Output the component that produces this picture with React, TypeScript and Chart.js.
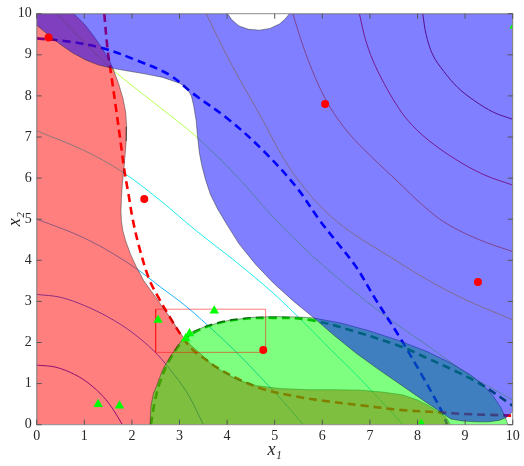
import React, { useEffect, useRef } from 'react';
import { Chart, registerables } from 'chart.js';

Chart.register(...registerables);

type Pt = [number, number];

// ---------- axes ----------
const X_TICKS = [0, 1, 2, 3, 4, 5, 6, 7, 8, 9, 10];
const Y_TICKS = [0, 1, 2, 3, 4, 5, 6, 7, 8, 9, 10];
const X_TITLE = 'x₁';
const Y_TITLE = 'x₂';

// ---------- filled regions (boundaries) ----------
const redRegion: Pt[] = [
  [0, 0], [0, 10], [0.78, 10], [1.0, 9.75], [1.2, 9.45], [1.38, 9.15], [1.52, 8.88], [1.6, 8.67],
  [1.72, 8.3], [1.81, 7.95], [1.87, 7.6], [1.89, 7.25], [1.88, 6.9], [1.86, 6.6], [1.83, 6.2],
  [1.8, 5.87], [1.78, 5.5], [1.77, 5.2], [1.78, 4.95], [1.81, 4.72], [1.87, 4.47], [1.97, 4.15],
  [2.09, 3.85], [2.25, 3.5], [2.44, 3.2], [2.62, 2.9], [2.79, 2.63], [2.95, 2.35], [3.07, 2.14],
  [3.25, 1.92], [3.43, 1.74], [3.65, 1.5], [3.92, 1.28], [4.25, 1.08], [4.62, 0.95], [5.1, 0.88],
  [5.7, 0.85], [6.3, 0.85], [6.8, 0.84], [7.3, 0.79], [7.7, 0.72], [8.0, 0.6], [8.25, 0.45],
  [8.45, 0.3], [8.6, 0.18], [8.69, 0],
];

const blueRegion: Pt[] = [
  [0, 10], [4.01, 10], [4.1, 9.85], [4.25, 9.7], [4.45, 9.62], [4.68, 9.6], [4.9, 9.64], [5.1, 9.75],
  [5.22, 9.87], [5.31, 10], [10, 10], [10, 0.32], [9.87, 0.18], [9.73, 0.11], [9.5, 0.07],
  [9.24, 0.07], [8.95, 0.09], [8.7, 0.14], [8.6, 0.22], [8.2, 0.53], [7.7, 0.93], [7.2, 1.33],
  [6.71, 1.74], [6.25, 2.17], [5.8, 2.62], [5.4, 3.0], [4.97, 3.45], [4.6, 3.9], [4.25, 4.4],
  [3.98, 4.9], [3.8, 5.25], [3.65, 5.6], [3.55, 5.95], [3.47, 6.3], [3.42, 6.6], [3.38, 7.0],
  [3.35, 7.4], [3.3, 7.75], [3.25, 8.0], [3.15, 8.2], [3.0, 8.31], [2.65, 8.45], [2.3, 8.53],
  [1.95, 8.6], [1.6, 8.67], [1.3, 8.75], [1.04, 8.87], [0.75, 9.05], [0.5, 9.25], [0.25, 9.48],
  [0, 9.72],
];

const greenRegion: Pt[] = [
  [2.38, 0], [2.4, 0.45], [2.45, 0.75], [2.52, 0.95], [2.65, 1.35], [2.8, 1.65], [2.95, 1.9],
  [3.08, 2.1], [3.3, 2.28], [3.57, 2.4], [4.0, 2.53], [4.5, 2.61], [5.0, 2.63], [5.5, 2.62],
  [5.8, 2.6], [6.4, 2.47], [7.0, 2.28], [7.6, 2.05], [8.2, 1.78], [8.7, 1.5], [9.1, 1.22],
  [9.4, 0.95], [9.6, 0.68], [9.75, 0.42], [9.84, 0.2], [9.9, 0],
];

// ---------- dashed curves ----------
const redDashed: Pt[] = [
  [1.42, 10], [1.49, 9.12], [1.58, 8.4], [1.67, 7.66], [1.76, 6.9], [1.84, 6.2], [1.93, 5.6],
  [2.02, 4.98], [2.17, 4.25], [2.37, 3.52], [2.58, 3.05], [2.79, 2.63], [3.08, 2.1], [3.3, 1.8],
  [3.57, 1.57], [3.8, 1.38], [4.27, 1.09], [4.75, 0.87], [5.43, 0.69], [6.1, 0.57], [6.83, 0.47],
  [7.63, 0.36], [8.47, 0.3], [9.0, 0.26], [9.5, 0.24], [10, 0.22],
];

const blueDashed: Pt[] = [
  [0, 9.4], [0.69, 9.32], [1.39, 9.16], [2.09, 8.87], [2.79, 8.51], [3.28, 8.06], [4.05, 7.41],
  [4.75, 6.68], [5.45, 5.79], [5.94, 4.98], [6.3, 4.45], [6.71, 3.84], [7.13, 3.03], [7.62, 2.14],
  [8.11, 1.17], [8.53, 0.28], [8.62, 0],
];

const greenDashed: Pt[] = [
  [2.4, 0], [2.47, 0.5], [2.58, 1.0], [2.78, 1.55], [3.08, 2.05], [3.4, 2.3], [3.8, 2.47],
  [4.3, 2.57], [4.97, 2.6], [5.74, 2.55], [6.71, 2.26], [7.7, 1.88], [8.2, 1.62], [8.75, 1.33],
  [9.2, 1.07], [9.5, 0.86], [10, 0.46],
];

// ---------- contour lines (lowest to highest level) ----------
const contour1: Pt[] = [[0, 1.45], [0.4, 1.4], [0.8, 1.22], [1.1, 1.0], [1.4, 0.68], [1.6, 0.38], [1.8, 0]];
const contour2: Pt[] = [[0, 3.17], [0.5, 3.1], [1.0, 2.9], [1.5, 2.62], [2.0, 2.25], [2.5, 1.75], [2.9, 1.2], [3.2, 0.7], [3.5, 0]];
const contour3: Pt[] = [[0, 5.0], [0.77, 4.66], [1.4, 4.3], [2.09, 3.8], [2.6, 3.35], [3.15, 2.87], [3.78, 2.22], [4.25, 1.7], [4.69, 1.17], [5.15, 0.6], [5.6, 0]];
const contour4: Pt[] = [[0, 7.15], [0.98, 6.68], [1.8, 6.15], [2.59, 5.46], [3.35, 4.72], [4.2, 3.95], [4.97, 3.2], [5.6, 2.5], [6.2, 1.8], [6.71, 1.22], [7.2, 0.62], [7.7, 0]];
const contour5: Pt[] = [[0.42, 10], [1.0, 9.3], [1.6, 8.63], [2.5, 7.8], [3.35, 7.01], [4.2, 6.05], [4.96, 5.06], [5.8, 4.1], [6.71, 3.2], [7.5, 2.5], [8.3, 1.85], [9.1, 1.2], [10, 0.6]];
const contour6: Pt[] = [[3.56, 10], [4.1, 8.75], [4.75, 7.41], [5.2, 6.45], [5.7, 5.65], [6.2, 5.05], [6.71, 4.6], [7.4, 4.1], [8.1, 3.6], [8.9, 3.1], [10, 2.55]];
const contour7: Pt[] = [[5.38, 10], [5.6, 9.2], [5.85, 8.45], [6.15, 7.75], [6.55, 7.1], [7.05, 6.5], [7.6, 5.9], [8.1, 5.35], [8.6, 4.9], [9.3, 4.5], [10, 4.21]];
const contour8: Pt[] = [[6.78, 10], [6.9, 9.4], [7.06, 8.87], [7.3, 8.3], [7.55, 7.8], [7.8, 7.4], [8.2, 6.95], [8.81, 6.45], [9.4, 6.08], [10, 5.83]];
const contour9: Pt[] = [[8.11, 10], [8.18, 9.5], [8.32, 9.0], [8.55, 8.6], [8.85, 8.2], [9.2, 7.88], [9.6, 7.6], [10, 7.43]];

const contours: Pt[][] = [contour1, contour2, contour3, contour4, contour5, contour6, contour7, contour8, contour9];
const contourColors = [
  'rgb(0,0,220)', 'rgb(0,70,255)', 'rgb(0,170,255)', 'rgb(0,235,235)', 'rgb(170,255,60)',
  'rgb(255,210,0)', 'rgb(255,120,0)', 'rgb(230,30,0)', 'rgb(160,0,0)',
];

// ---------- markers ----------
const redDots: Pt[] = [[0.25, 9.42], [2.26, 5.49], [6.06, 7.8], [9.27, 3.47], [4.76, 1.82]];
const greenTriangles: Pt[] = [[10.03, 9.7], [1.29, 0.5], [1.74, 0.46], [2.55, 2.55], [3.13, 2.1], [3.21, 2.22], [3.73, 2.77], [8.08, 0.02]];

// ---------- rectangle ----------
const boxX = [2.5, 4.81];
const boxY = [1.76, 2.81];

const SERIF = '"Liberation Serif", "Times New Roman", "DejaVu Serif", serif';
const toXY = (pts: Pt[]) => pts.map(([x, y]) => ({ x, y }));

const framePlugin = {
  id: 'frameTicks',
  afterDatasetsDraw(chart: any) {
    const { ctx, chartArea: a, scales } = chart;
    const xs = scales.x;
    const ys = scales.y;
    const L = 5;
    ctx.save();
    ctx.strokeStyle = '#8c8c8c';
    ctx.lineWidth = 1;
    ctx.strokeRect(a.left, a.top, a.right - a.left, a.bottom - a.top);
    ctx.strokeStyle = '#555';
    ctx.beginPath();
    xs.ticks.forEach((t: any) => {
      const px = xs.getPixelForValue(t.value);
      ctx.moveTo(px, a.bottom); ctx.lineTo(px, a.bottom - L);
      ctx.moveTo(px, a.top); ctx.lineTo(px, a.top + L);
    });
    ys.ticks.forEach((t: any) => {
      const py = ys.getPixelForValue(t.value);
      ctx.moveTo(a.left, py); ctx.lineTo(a.left + L, py);
      ctx.moveTo(a.right, py); ctx.lineTo(a.right - L, py);
    });
    ctx.stroke();
    ctx.restore();
  },
};

export default function App() {
  const ref = useRef<HTMLCanvasElement | null>(null);

  useEffect(() => {
    if (!ref.current) return;

    const lineDs = (pts: Pt[], color: string, width: number, order: number, dash: number[] = []) => ({
      data: toXY(pts),
      showLine: true,
      borderColor: color,
      borderWidth: width,
      borderDash: dash,
      pointRadius: 0,
      tension: 0.35,
      fill: false,
      order,
    });

    const regionDs = (pts: Pt[], color: string, order: number) => ({
      data: toXY(pts),
      showLine: true,
      fill: 'shape',
      backgroundColor: color,
      borderColor: 'rgba(30,30,30,0.55)',
      borderWidth: 0.8,
      pointRadius: 0,
      tension: 0,
      order,
    });

    const rectPts: Pt[] = [
      [boxX[0], boxY[0]], [boxX[1], boxY[0]], [boxX[1], boxY[1]], [boxX[0], boxY[1]], [boxX[0], boxY[0]],
    ];

    const datasets: any[] = [
      ...contours.map((c, i) => lineDs(c, contourColors[i], 0.9, 100)),
      lineDs(redDashed, 'rgb(255,0,0)', 2.6, 90, [8, 5]),
      lineDs(blueDashed, 'rgb(0,0,255)', 2.6, 90, [8, 5]),
      lineDs(greenDashed, 'rgb(0,130,0)', 2.6, 90, [8, 5]),
      regionDs(redRegion, 'rgba(255,0,0,0.5)', 50),
      regionDs(greenRegion, 'rgba(0,255,0,0.5)', 40),
      regionDs(blueRegion, 'rgba(0,0,255,0.5)', 30),
      { ...lineDs(rectPts, 'rgba(255,0,0,0.5)', 1, 20), tension: 0 },
      {
        data: toXY(redDots), showLine: false, pointStyle: 'circle', pointRadius: 4,
        pointBackgroundColor: 'rgb(255,0,0)', pointBorderWidth: 0, order: 10,
      },
      {
        data: toXY(greenTriangles), showLine: false, pointStyle: 'triangle', pointRadius: 5.5,
        pointBackgroundColor: 'rgb(0,255,0)', pointBorderWidth: 0, order: 5,
      },
    ];

    const tickFont = { family: SERIF, size: 14 };
    const titleFont = { family: SERIF, size: 18, style: 'italic' as const };

    const chart = new Chart(ref.current, {
      type: 'scatter',
      data: { datasets },
      plugins: [framePlugin],
      options: {
        responsive: false,
        animation: false,
        events: [],
        devicePixelRatio: 1,
        layout: { padding: { left: 0, top: 13.7, right: 11.3, bottom: 0 } },
        plugins: { legend: { display: false }, tooltip: { enabled: false } },
        scales: {
          x: {
            type: 'linear', min: 0, max: 10,
            afterBuildTicks: (s: any) => { s.ticks = X_TICKS.map((v) => ({ value: v })); },
            afterFit: (s: any) => { s.height = 41.3; },
            ticks: { autoSkip: false, maxRotation: 0, padding: 3, color: '#262626', font: tickFont },
            grid: { display: false, drawTicks: false },
            border: { display: false },
            title: { display: true, text: X_TITLE, color: '#262626', font: titleFont, padding: { top: 0, bottom: 5 } },
          },
          y: {
            type: 'linear', min: 0, max: 10,
            afterBuildTicks: (s: any) => { s.ticks = Y_TICKS.map((v) => ({ value: v })); },
            afterFit: (s: any) => { s.width = 36.7; },
            ticks: { autoSkip: false, padding: 5, color: '#262626', font: tickFont },
            grid: { display: false, drawTicks: false },
            border: { display: false },
            title: { display: true, text: Y_TITLE, color: '#262626', font: titleFont, padding: { top: 4, bottom: 0 } },
          },
        },
      } as any,
    });

    return () => chart.destroy();
  }, []);

  return (
    <div style={{ position: 'fixed', left: 0, top: 0, width: 524, height: 466, background: '#fff' }}>
      <canvas ref={ref} width={524} height={466} style={{ display: 'block' }} />
    </div>
  );
}
